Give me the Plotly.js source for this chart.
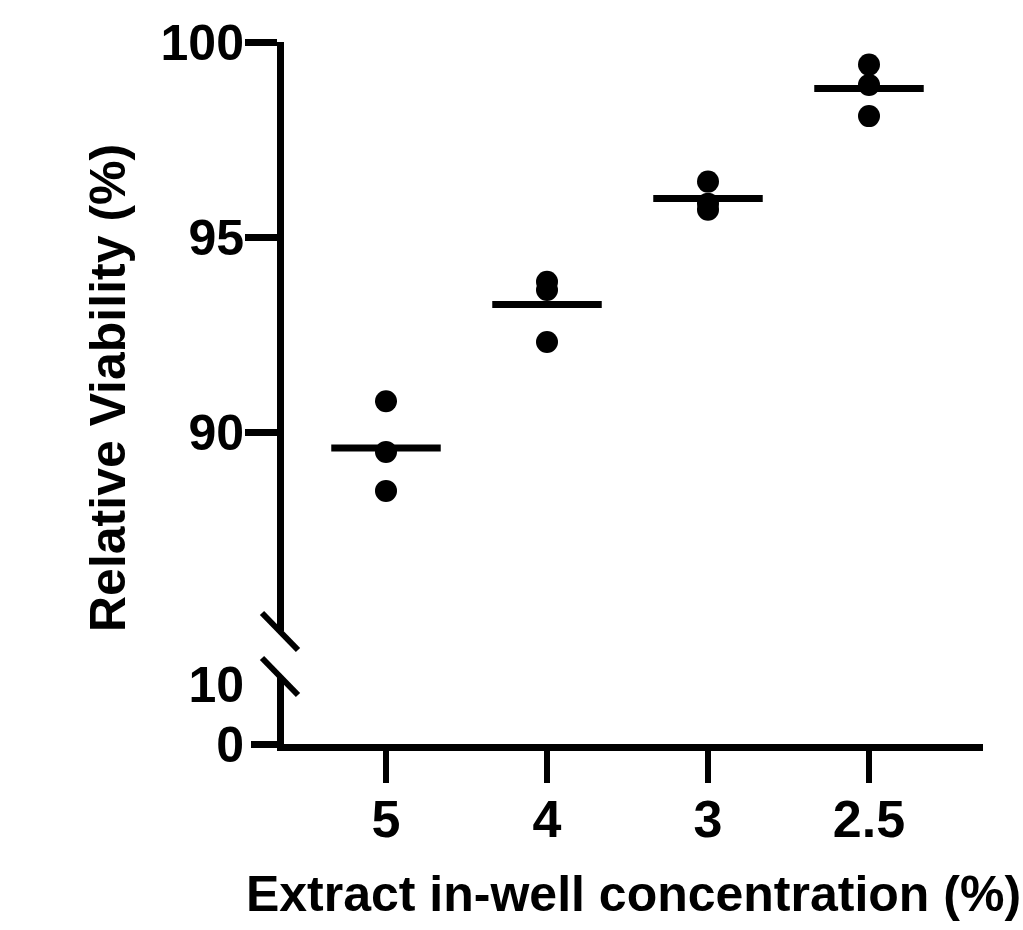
<!DOCTYPE html>
<html>
<head>
<meta charset="utf-8">
<script src="https://cdn.plot.ly/plotly-3.0.1.min.js"></script>
<style>html,body{margin:0;padding:0;background:#fff;}#chart{width:1023px;height:930px;}</style>
</head>
<body>
<div id="chart"></div>
<script>
// Data
const categories = ['5', '4', '3', '2.5'];
const rep1 = [90.79, 93.85, 96.42, 99.42];
const rep2 = [89.49, 93.64, 95.85, 98.90];
const rep3 = [88.49, 92.31, 95.70, 98.10];
const upperTicks = [90, 95, 100];
const lowerTicks = [0, 10];
const xTitle = 'Extract in-well concentration (%)';
const yTitle = 'Relative Viability (%)';

const FONT = 'Liberation Sans, Arial, Helvetica, sans-serif';
const pos = categories.map((c, i) => i);

const dotX = [], dotY = [];
[rep1, rep2, rep3].forEach(rep => rep.forEach((v, i) => { dotX.push(pos[i]); dotY.push(v); }));

const meanX = [], meanY = [];
pos.forEach((p, i) => {
  const m = (rep1[i] + rep2[i] + rep3[i]) / 3;
  meanX.push(p - 0.34, p + 0.34, null);
  meanY.push(m, m, null);
});

const traces = [
  {x: dotX, y: dotY, xaxis: 'x', yaxis: 'y2', type: 'scatter', mode: 'markers',
   marker: {size: 22, color: '#000'}, hoverinfo: 'skip', showlegend: false},
  {x: meanX, y: meanY, xaxis: 'x', yaxis: 'y2', type: 'scatter', mode: 'lines',
   line: {color: '#000', width: 7}, hoverinfo: 'skip', showlegend: false}
];

const L = 284, T = 42, B = 744, R = 983;
const H = B - T, W = R - L;
const px2y = py => (B - py) / H;
const px2x = px => (px - L) / W;

const layout = {
  width: 1023, height: 930,
  margin: {l: L, r: 1023 - R, t: T, b: 930 - B},
  paper_bgcolor: '#fff', plot_bgcolor: '#fff',
  showlegend: false,
  font: {family: FONT, color: '#000', size: 50, weight: 700},
  xaxis: {
    range: [-(386 - L) / 161, (R - 386) / 161], anchor: 'y',
    tickmode: 'array', tickvals: pos, ticktext: categories,
    ticks: 'outside', ticklen: 32, tickwidth: 6, tickcolor: '#000',
    showline: true, linewidth: 7, linecolor: '#000',
    showgrid: false, zeroline: false,
    ticklabelstandoff: -8,
    tickfont: {family: FONT, size: 52, color: '#000', weight: 700},
    title: {text: xTitle, standoff: 31, font: {family: FONT, size: 50, color: '#000', weight: 700}}
  },
  yaxis: {
    domain: [0, px2y(677)], range: [0, (B - 677) / 6], anchor: 'x',
    tickmode: 'array', tickvals: lowerTicks, ticktext: lowerTicks.map(String),
    ticks: 'outside', ticklen: 32, tickwidth: 6, tickcolor: 'rgba(0,0,0,0)',
    showline: true, linewidth: 7, linecolor: '#000',
    showgrid: false, zeroline: false,
    ticklabelstandoff: -9,
    tickfont: {family: FONT, size: 50, color: '#000', weight: 700}
  },
  yaxis3: {
    domain: [0, px2y(677)], range: [0, (B - 677) / 6], anchor: 'x', overlaying: 'y',
    tickmode: 'array', tickvals: [0], showticklabels: false,
    ticks: 'outside', ticklen: 32, tickwidth: 7, tickcolor: '#000',
    showline: false, showgrid: false, zeroline: false
  },
  yaxis2: {
    domain: [px2y(631), 1], range: [90 - (631 - 432) / 39, 100], anchor: 'x',
    tickmode: 'array', tickvals: upperTicks, ticktext: upperTicks.map(String),
    ticks: 'outside', ticklen: 32, tickwidth: 7, tickcolor: '#000',
    showline: true, linewidth: 7, linecolor: '#000',
    showgrid: false, zeroline: false,
    ticklabelstandoff: -9,
    tickfont: {family: FONT, size: 50, color: '#000', weight: 700}
  },
  shapes: [
    {type: 'line', xref: 'paper', yref: 'paper', x0: px2x(262), y0: px2y(613), x1: px2x(298), y1: px2y(650),
     line: {color: '#000', width: 6}},
    {type: 'line', xref: 'paper', yref: 'paper', x0: px2x(262), y0: px2y(658), x1: px2x(298), y1: px2y(695),
     line: {color: '#000', width: 6}}
  ],
  annotations: [
    {text: yTitle, xref: 'paper', yref: 'paper', x: px2x(108), y: px2y(388),
     xanchor: 'center', yanchor: 'middle', textangle: -90, showarrow: false,
     font: {family: FONT, size: 50, color: '#000', weight: 700}}
  ]
};

traces.push({x: [null], y: [null], xaxis: 'x', yaxis: 'y3', type: 'scatter', mode: 'markers', hoverinfo: 'skip', showlegend: false});
traces.push({x: [null], y: [null], xaxis: 'x', yaxis: 'y', type: 'scatter', mode: 'markers', hoverinfo: 'skip', showlegend: false});

Plotly.newPlot('chart', traces, layout, {displayModeBar: false, staticPlot: true});
</script>
</body>
</html>
